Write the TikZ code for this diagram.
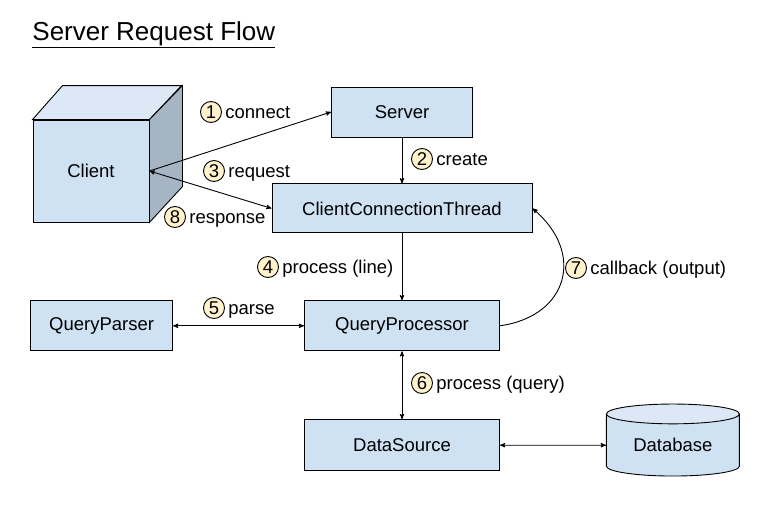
\documentclass[tikz,border=0pt]{standalone}
\usepackage{fontspec}
\setmainfont{Liberation Sans}
\usepackage{xcolor}
\usepackage{tikz}
\usetikzlibrary{arrows,shapes,positioning}
\definecolor{boxblue}{HTML}{CFE2F3}
\definecolor{sideblue}{HTML}{A6B5C3}
\definecolor{topblue}{HTML}{DCE8F5}
\definecolor{numyellow}{HTML}{FFF2CC}
\newcommand{\labelfont}{\fontsize{18.5}{22}\selectfont}
\tikzset{
  every picture/.style = {
    line width = 0.9pt,
    >=stealth',
    node distance = 3pt and 3pt,
  }
  ,
  block/.style = {
    rectangle,
    draw,
    fill = boxblue,
    font = \labelfont,
    inner sep = 0pt
  }
  , % numbered circles
  label-num/.style = {
    circle,
    draw,
    fill = numyellow,
    minimum size = 21pt,
    inner sep = 0pt,
    font = \labelfont
  }
  , % labels of edges
  label-edge/.style = {
    font = \labelfont,
    text height = 13.3pt,
    text depth = 0pt,
    inner sep = 0pt
  }
}
\begin{document}
\begin{tikzpicture}[x=1pt, y=-1pt]
		\useasboundingbox (0,0) rectangle (766,506);
		\node[anchor=base west, inner sep=0pt, font=\fontsize{26}{30}\selectfont] at (32,40) (title) {\underline{Server Request Flow}};
		% client cube
		\node[block, minimum width=116pt, minimum height=102pt] at (91,171) (client) {Client};
		\draw[fill=topblue] (client.north west) -- ++(30,-34) -- ++(119,0) -- (client.north east) -- cycle;
		\draw[fill=sideblue] (client.north east) -- ++(33,-34) -- ++(0,101) -- (client.south east) -- cycle;
		\node[block, minimum width=141pt, minimum height=50pt] at (402,112) (server) {Server};
		\node[block, minimum width=260pt, minimum height=49pt, below = 46pt of server] (cct) {ClientConnectionThread};
		\node[block, minimum width=195pt, minimum height=50pt, below = 67pt of cct] (qp) {QueryProcessor};
		\node[block, minimum width=142pt, minimum height=50pt, left = 131pt of qp] (parser) {QueryParser};
		\node[block, minimum width=195pt, minimum height=51pt, below = 68pt of qp] (ds) {DataSource};
		\node[cylinder, shape border rotate=90, aspect=0.25, draw, minimum width=133pt, minimum height=72pt,
		      cylinder uses custom fill, cylinder body fill=boxblue, cylinder end fill=topblue,
		      font=\labelfont, inner sep=0pt, right = 106pt of ds] (db) {Database};
		% connectors
		\path[->] (client.east) edge (server.west);
		\path[<->] (client.east) edge (cct.west);
		\path[->] (server) edge (cct);
		\path[->] (cct) edge (qp);
		\path[<->] (parser) edge (qp);
		\path[<->] (qp) edge (ds);
		\path[<->] (ds) edge (db);
		\path[->] (qp.east) edge[out=8, in=-40, looseness=1.45] (cct.east);
		% numbered labels
		\node[label-num] at (211,112) (n1) {1};
		\node[label-edge, right = of n1] (connect) {connect};
		\node[label-num] at (422,159) (n2) {2};
		\node[label-edge, right = of n2] (create) {create};
		\node[label-num] at (214,171) (n3) {3};
		\node[label-edge, right = of n3] (request) {request};
		\node[label-num] at (175,217) (n8) {8};
		\node[label-edge, right = of n8] (response) {response};
		\node[label-num] at (268,267) (n4) {4};
		\node[label-edge, right = of n4] (line) {process (line)};
		\node[label-num] at (214,308) (n5) {5};
		\node[label-edge, right = of n5] (parse) {parse};
		\node[label-num] at (422,383) (n6) {6};
		\node[label-edge, right = of n6] (query) {process (query)};
		\node[label-num] at (576,268) (n7) {7};
		\node[label-edge, right = of n7] (callback) {callback (output)};
\end{tikzpicture}
\end{document}
